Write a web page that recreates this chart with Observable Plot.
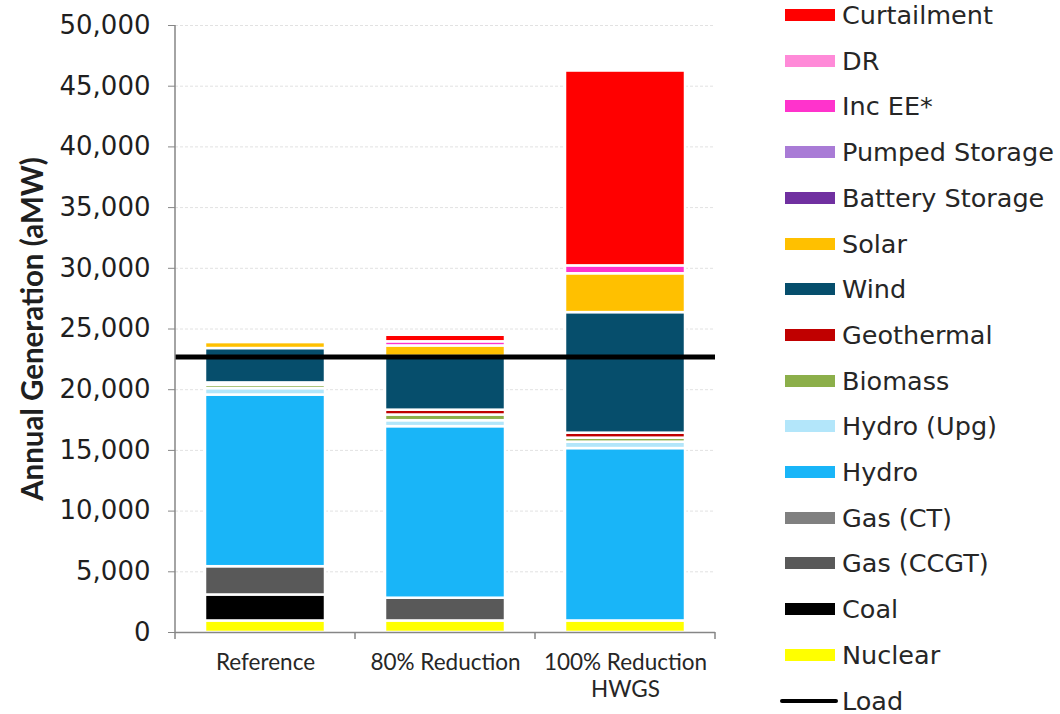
<!DOCTYPE html>
<html>
<head>
<meta charset="utf-8">
<script src="https://cdn.jsdelivr.net/npm/d3@7"></script>
<script src="https://cdn.jsdelivr.net/npm/@observablehq/plot@0.6"></script>
<style>
  html, body { margin: 0; padding: 0; background: #fff; }
  #chart { position: relative; width: 1060px; height: 714px; overflow: hidden; }
  #chart svg { position: absolute; left: 0; top: 0; }
  #legend { position: absolute; left: 0; top: 0; font-family: "DejaVu Sans"; font-size: 25.5px; color: #262626; }
  #legend .row { position: absolute; left: 780px; height: 46px; display: flex; align-items: center; white-space: nowrap; }
  #legend .swatch { width: 50px; height: 12px; margin-left: 5px; margin-right: 7px; }
  #legend .line { width: 58px; height: 4px; background: #000; border-radius: 2px; margin-right: 4px; }
</style>
</head>
<body>
<div id="chart"><div id="legend"></div></div>
<script>
// Scenarios on the x axis
const scenarios = ["Reference", "80% Reduction", "100% Reduction HWGS"];
const scenarioLabels = ["Reference", "80% Reduction", "100% Reduction\nHWGS"];

// Resources, stacked bottom to top
const resources = ["Nuclear", "Coal", "Gas (CCGT)", "Gas (CT)", "Hydro", "Hydro (Upg)", "Biomass",
  "Geothermal", "Wind", "Solar", "Battery Storage", "Pumped Storage", "Inc EE*", "DR", "Curtailment"];
const resourceColors = ["#ffff00", "#000000", "#595959", "#808080", "#19b5f8", "#b3e6fa", "#8caf4a",
  "#c00000", "#064e6c", "#ffc000", "#7030a0", "#a97bd6", "#ff33cc", "#ff8ad8", "#ff0000"];

// Annual generation (aMW), one value per scenario
const nuclear     = [950, 950, 950];
const coal        = [2140, 0, 0];
const gasCCGT     = [2330, 1875, 0];
const gasCT       = [0, 0, 0];
const hydro       = [14140, 14130, 14200];
const hydroUpg    = [530, 490, 530];
const biomass     = [270, 470, 330];
const geothermal  = [200, 400, 410];
const wind        = [2830, 4420, 9930];
const solar       = [490, 870, 3200];
const battery     = [0, 0, 0];
const pumped      = [0, 0, 0];
const incEE       = [0, 340, 650];
const dr          = [0, 0, 0];
const curtailment = [0, 540, 16050];

// Load (aMW)
const load = 22700;

const yTicks = [0, 5000, 10000, 15000, 20000, 25000, 30000, 35000, 40000, 45000, 50000];

const seriesValues = [nuclear, coal, gasCCGT, gasCT, hydro, hydroUpg, biomass, geothermal,
  wind, solar, battery, pumped, incEE, dr, curtailment];

const rows = [];
scenarios.forEach((s, i) => {
  resources.forEach((r, j) => {
    const v = seriesValues[j][i];
    if (v > 0) rows.push({scenario: s, resource: r, value: v});
  });
});

// Left axis line and category boundary ticks
function axisFrame(index, scales, values, dimensions) {
  const {marginLeft, marginRight, marginTop, marginBottom, width, height} = dimensions;
  const band = d3.scaleBand(scenarios, [marginLeft, width - marginRight]).padding(0);
  const y0 = height - marginBottom;
  const g = d3.create("svg:g").attr("stroke", "#868686").attr("stroke-width", 1.5);
  g.append("line").attr("x1", marginLeft).attr("x2", marginLeft).attr("y1", marginTop).attr("y2", y0);
  const bounds = [...scenarios.map(band), width - marginRight];
  for (const bx of bounds) {
    g.append("line").attr("x1", bx).attr("x2", bx).attr("y1", y0).attr("y2", y0 + 7);
  }
  return g.node();
}

const plot = Plot.plot({
  width: 760,
  height: 714,
  marginLeft: 175,
  marginRight: 45,
  marginTop: 25,
  marginBottom: 82,
  style: {fontFamily: "DejaVu Sans", background: "transparent", overflow: "visible"},
  x: {domain: scenarios, padding: 0},
  y: {domain: [0, 50000]},
  color: {domain: resources, range: resourceColors},
  marks: [
    Plot.gridY(yTicks, {stroke: "#e2e2e2", strokeOpacity: 1, strokeDasharray: "3,2"}),
    Plot.barY(rows, {
      x: "scenario", y: "value", fill: "resource", order: resources,
      stroke: "white", strokeWidth: 2.5, insetLeft: 30, insetRight: 30
    }),
    Plot.ruleY([0], {stroke: "#868686", strokeWidth: 1.5}),
    Plot.ruleY([load], {stroke: "#000", strokeWidth: 5}),
    axisFrame,
    Plot.axisY(yTicks, {
      tickSize: 7, tickPadding: 18, fontSize: 26, fill: "#1f1f1f", stroke: "#868686",
      tickFormat: d3.format(","), label: null
    }),
    Plot.axisX({
      tickSize: 0, tickPadding: 18, fontSize: 22.5, fontFamily: "Lato", fill: "#262626",
      lineHeight: 1.2, tickFormat: d => scenarioLabels[scenarios.indexOf(d)], label: null
    }),
    Plot.text(["Annual Generation (aMW)"], {
      frameAnchor: "left", dx: -142, rotate: -90, text: d => d, textAnchor: "middle",
      fontFamily: "Lato", fontWeight: "bold", fontSize: 29.5, fill: "#1f1f1f"
    })
  ]
});

document.getElementById("chart").prepend(plot);

// Legend: top row is the top of the stack
const legend = document.getElementById("legend");
const legendItems = resources.map((r, j) => ({label: r, color: resourceColors[j]})).reverse();
legendItems.push({label: "Load", line: true});
legendItems.forEach((item, i) => {
  const row = document.createElement("div");
  row.className = "row";
  row.style.top = (15 + i * 45.7 - 23) + "px";
  const sw = document.createElement("div");
  if (item.line) {
    sw.className = "line";
  } else {
    sw.className = "swatch";
    sw.style.background = item.color;
  }
  const t = document.createElement("span");
  t.textContent = item.label;
  row.appendChild(sw);
  row.appendChild(t);
  legend.appendChild(row);
});
</script>
</body>
</html>
